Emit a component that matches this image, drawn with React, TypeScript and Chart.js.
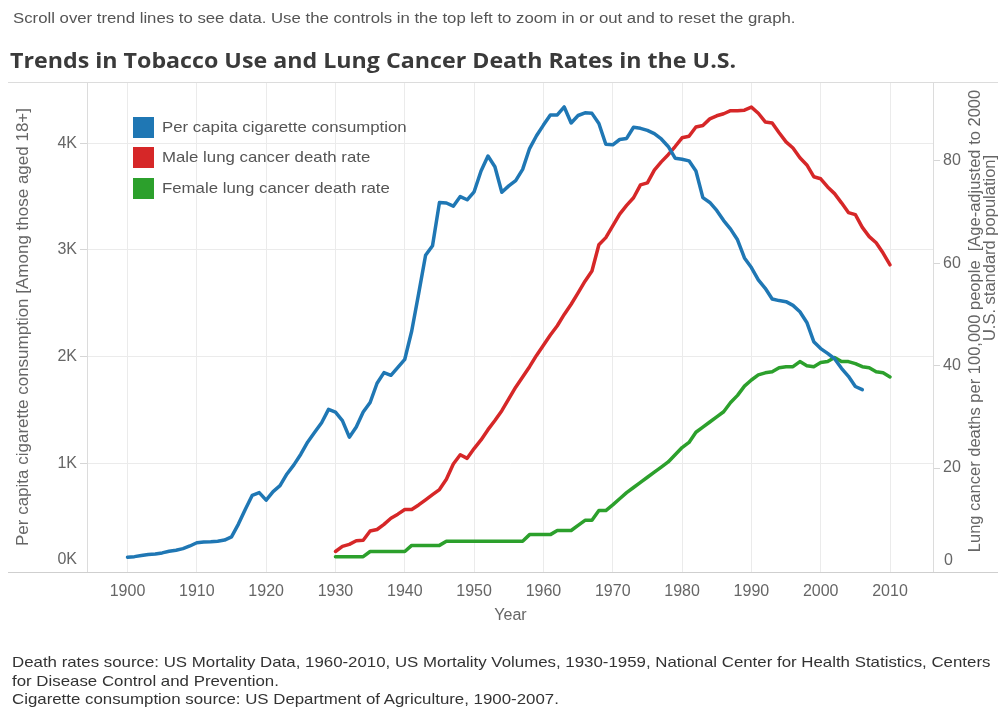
import React, { useEffect, useRef } from 'react';
import { Chart, registerables } from 'chart.js';

Chart.register(...registerables);

const FONT = '"Liberation Sans", Arial, sans-serif';

const cigYears = [
  1900, 1901, 1902, 1903, 1904, 1905, 1906, 1907, 1908, 1909,
  1910, 1911, 1912, 1913, 1914, 1915, 1916, 1917, 1918, 1919,
  1920, 1921, 1922, 1923, 1924, 1925, 1926, 1927, 1928, 1929,
  1930, 1931, 1932, 1933, 1934, 1935, 1936, 1937, 1938, 1939,
  1940, 1941, 1942, 1943, 1944, 1945, 1946, 1947, 1948, 1949,
  1950, 1951, 1952, 1953, 1954, 1955, 1956, 1957, 1958, 1959,
  1960, 1961, 1962, 1963, 1964, 1965, 1966, 1967, 1968, 1969,
  1970, 1971, 1972, 1973, 1974, 1975, 1976, 1977, 1978, 1979,
  1980, 1981, 1982, 1983, 1984, 1985, 1986, 1987, 1988, 1989,
  1990, 1991, 1992, 1993, 1994, 1995, 1996, 1997, 1998, 1999,
  2000, 2001, 2002, 2003, 2004, 2005, 2006,
];

const cigConsumption = [
  120, 125, 135, 145, 150, 160, 175, 185, 200, 225,
  255, 262, 265, 270, 280, 310, 430, 570, 700, 725,
  655, 735, 790, 900, 985, 1085, 1200, 1290, 1380, 1505,
  1480, 1400, 1245, 1340, 1480, 1570, 1750, 1850, 1825, 1900,
  1975, 2240, 2590, 2950, 3040, 3445, 3440, 3410, 3500, 3470,
  3545, 3740, 3880, 3780, 3540, 3600, 3650, 3755, 3950, 4070,
  4170, 4265, 4265, 4340, 4190, 4260, 4285, 4280, 4185, 3990,
  3985, 4035, 4045, 4150, 4140, 4120, 4090, 4040, 3970, 3860,
  3850, 3835, 3740, 3490, 3445, 3370, 3275, 3195, 3095, 2925,
  2835, 2720, 2640, 2540, 2525, 2515, 2480, 2420, 2320, 2140,
  2075, 2030, 1980, 1890, 1815, 1720, 1690,
];

const deathYears = [
  1930, 1931, 1932, 1933, 1934, 1935, 1936, 1937, 1938, 1939,
  1940, 1941, 1942, 1943, 1944, 1945, 1946, 1947, 1948, 1949,
  1950, 1951, 1952, 1953, 1954, 1955, 1956, 1957, 1958, 1959,
  1960, 1961, 1962, 1963, 1964, 1965, 1966, 1967, 1968, 1969,
  1970, 1971, 1972, 1973, 1974, 1975, 1976, 1977, 1978, 1979,
  1980, 1981, 1982, 1983, 1984, 1985, 1986, 1987, 1988, 1989,
  1990, 1991, 1992, 1993, 1994, 1995, 1996, 1997, 1998, 1999,
  2000, 2001, 2002, 2003, 2004, 2005, 2006, 2007, 2008, 2009,
  2010,
];

const maleDeathRate = [
  3.7, 4.7, 5.1, 5.8, 5.9, 7.7, 8.0, 9.0, 10.2, 11.0,
  11.9, 11.9, 12.8, 13.8, 14.8, 15.8, 17.8, 20.8, 22.6, 21.9,
  23.8, 25.5, 27.5, 29.3, 31.2, 33.5, 35.8, 37.8, 39.8, 42.0,
  44.0, 46.0, 47.8, 50.0, 52.0, 54.2, 56.5, 58.5, 63.6, 65.0,
  67.3, 69.6, 71.3, 72.8, 75.3, 75.7, 78.2, 79.8, 81.2, 82.8,
  84.5, 84.8, 86.6, 86.9, 88.2, 88.8, 89.2, 89.8, 89.8, 89.9,
  90.5, 89.3, 87.6, 87.4, 85.5, 83.7, 82.5, 80.6, 79.2, 76.9,
  76.5, 74.9, 73.6, 71.8, 69.9, 69.5, 67.0, 65.2, 64.0, 62.0,
  59.7,
];

const femaleDeathRate = [
  2.7, 2.7, 2.7, 2.7, 2.7, 3.7, 3.7, 3.7, 3.7, 3.7,
  3.7, 4.9, 4.9, 4.9, 4.9, 4.9, 5.7, 5.7, 5.7, 5.7,
  5.7, 5.7, 5.7, 5.7, 5.7, 5.7, 5.7, 5.7, 7.0, 7.0,
  7.0, 7.0, 7.8, 7.8, 7.8, 8.8, 9.8, 9.8, 11.7, 11.7,
  12.8, 14.0, 15.2, 16.2, 17.2, 18.2, 19.2, 20.2, 21.2, 22.6,
  24.0, 25.0, 27.0, 28.0, 29.0, 30.0, 31.0, 32.8, 34.2, 36.0,
  37.2, 38.2, 38.6, 38.8, 39.6, 39.8, 39.8, 40.8, 40.0, 39.8,
  40.6, 40.8, 41.6, 40.8, 40.8, 40.4, 39.8, 39.6, 38.8, 38.6,
  37.8,
];

const yearTicks = [1900, 1910, 1920, 1930, 1940, 1950, 1960, 1970, 1980, 1990, 2000, 2010];
const consumptionTicks = [0, 1000, 2000, 3000, 4000];
const rateTicks = [0, 20, 40, 60, 80];

const seriesNames = [
  'Per capita cigarette consumption',
  'Male lung cancer death rate',
  'Female lung cancer death rate',
];
const seriesColors = ['#1f77b4', '#d62728', '#2ca02c'];

const leftAxisTitle = 'Per capita cigarette consumption [Among those aged 18+]';
const rightAxisTitle1 = 'Lung cancer deaths per 100,000 people  [Age-adjusted to 2000';
const rightAxisTitle2 = 'U.S. standard population]';

const GRID = '#ebebeb';
const TICK_COLOR = '#666666';

const framePlugin = {
  id: 'frame',
  beforeDatasetsDraw(chart: any) {
    const { ctx, chartArea } = chart;
    ctx.save();
    ctx.lineWidth = 1;
    ctx.strokeStyle = '#dcdcdc';
    ctx.beginPath();
    ctx.moveTo(8, Math.round(chartArea.top) + 0.5);
    ctx.lineTo(998, Math.round(chartArea.top) + 0.5);
    ctx.moveTo(Math.round(chartArea.left) - 0.5, chartArea.top);
    ctx.lineTo(Math.round(chartArea.left) - 0.5, chartArea.bottom);
    ctx.moveTo(Math.round(chartArea.right) + 0.5, chartArea.top);
    ctx.lineTo(Math.round(chartArea.right) + 0.5, chartArea.bottom);
    ctx.stroke();
    ctx.strokeStyle = '#cfcfcf';
    ctx.beginPath();
    ctx.moveTo(8, Math.round(chartArea.bottom) + 0.5);
    ctx.lineTo(998, Math.round(chartArea.bottom) + 0.5);
    ctx.stroke();
    ctx.restore();
  },
  afterDraw(chart: any) {
    const { ctx } = chart;
    const yl = chart.scales.y;
    const yr = chart.scales.y1;
    ctx.save();
    ctx.fillStyle = TICK_COLOR;
    ctx.font = `16px ${FONT}`;
    ctx.textBaseline = 'middle';
    // zero labels sit just above the bottom edge, as in the original
    ctx.textAlign = 'right';
    ctx.fillText('0K', yl.right - 11, yl.getPixelForValue(0) - 10);
    ctx.textAlign = 'left';
    ctx.fillText('0', yr.left + 11, yr.getPixelForValue(0) - 10);
    // right axis title (two lines, reading bottom to top)
    ctx.font = `16.5px ${FONT}`;
    ctx.textAlign = 'center';
    ctx.save();
    ctx.translate(975, 321);
    ctx.rotate(-Math.PI / 2);
    ctx.fillText(rightAxisTitle1, 0, 0);
    ctx.restore();
    ctx.save();
    ctx.translate(990, 248);
    ctx.rotate(-Math.PI / 2);
    ctx.fillText(rightAxisTitle2, 0, 0);
    ctx.restore();
    ctx.restore();
  },
};

export default function App() {
  const canvasRef = useRef<HTMLCanvasElement | null>(null);

  useEffect(() => {
    const canvas = canvasRef.current;
    if (!canvas) return;
    const chart = new Chart(canvas, {
      type: 'line',
      data: {
        datasets: [
          {
            label: seriesNames[0],
            data: cigYears.map((yr, i) => ({ x: yr, y: cigConsumption[i] })),
            borderColor: seriesColors[0],
            backgroundColor: seriesColors[0],
            yAxisID: 'y',
          },
          {
            label: seriesNames[1],
            data: deathYears.map((yr, i) => ({ x: yr, y: maleDeathRate[i] })),
            borderColor: seriesColors[1],
            backgroundColor: seriesColors[1],
            yAxisID: 'y1',
          },
          {
            label: seriesNames[2],
            data: deathYears.map((yr, i) => ({ x: yr, y: femaleDeathRate[i] })),
            borderColor: seriesColors[2],
            backgroundColor: seriesColors[2],
            yAxisID: 'y1',
          },
        ],
      },
      options: {
        animation: false,
        responsive: false,
        maintainAspectRatio: false,
        devicePixelRatio: 1,
        layout: { padding: { top: 82, left: 0, right: 0, bottom: 0 } },
        elements: {
          point: { radius: 0, hoverRadius: 0 },
          line: {
            tension: 0,
            borderWidth: 3.5,
            borderJoinStyle: 'round',
            borderCapStyle: 'round',
            fill: false,
          },
        },
        plugins: {
          legend: { display: false },
          tooltip: { enabled: false },
          title: { display: false },
        },
        scales: {
          x: {
            type: 'linear',
            position: 'bottom',
            min: 1894.3,
            max: 2016.2,
            afterBuildTicks: (s: any) => {
              s.ticks = yearTicks.map((v) => ({ value: v }));
            },
            afterFit: (s: any) => {
              s.height = 139;
            },
            grid: { color: GRID, drawTicks: false },
            border: { display: false },
            ticks: {
              padding: 10,
              color: TICK_COLOR,
              font: { family: FONT, size: 16 },
              maxRotation: 0,
              autoSkip: false,
              callback: (v: any) => String(v),
            },
            title: {
              display: true,
              text: 'Year',
              color: TICK_COLOR,
              font: { family: FONT, size: 16 },
              padding: { top: 0, bottom: 86 },
            },
          },
          y: {
            type: 'linear',
            position: 'left',
            min: -19,
            max: 4574,
            afterBuildTicks: (s: any) => {
              s.ticks = consumptionTicks.map((v) => ({ value: v }));
            },
            afterFit: (s: any) => {
              s.width = 88;
            },
            grid: {
              color: (c: any) => (c.tick && c.tick.value === 0 ? 'rgba(0,0,0,0)' : GRID),
              tickColor: (c: any) => (c.tick && c.tick.value === 0 ? 'rgba(0,0,0,0)' : '#d6d6d6'),
              tickLength: 8,
            },
            border: { display: false },
            ticks: {
              padding: 3,
              color: TICK_COLOR,
              font: { family: FONT, size: 16 },
              callback: (v: any) => (v === 0 ? '' : `${v / 1000}K`),
            },
            title: {
              display: true,
              text: leftAxisTitle,
              color: TICK_COLOR,
              font: { family: FONT, size: 17 },
              padding: { top: 13, bottom: 0 },
            },
          },
          y1: {
            type: 'linear',
            position: 'right',
            min: -0.3,
            max: 95.4,
            afterBuildTicks: (s: any) => {
              s.ticks = rateTicks.map((v) => ({ value: v }));
            },
            afterFit: (s: any) => {
              s.width = 65;
            },
            grid: {
              drawOnChartArea: false,
              tickColor: (c: any) => (c.tick && c.tick.value === 0 ? 'rgba(0,0,0,0)' : '#d6d6d6'),
              tickLength: 7,
            },
            border: { display: false },
            ticks: {
              padding: 3,
              color: TICK_COLOR,
              font: { family: FONT, size: 16 },
              callback: (v: any) => (v === 0 ? '' : String(v)),
            },
          },
        },
      },
      plugins: [framePlugin],
    } as any);
    return () => {
      chart.destroy();
    };
  }, []);

  const legendRows = [127, 157, 188];

  return (
    <div
      style={{
        position: 'absolute',
        left: 0,
        top: 0,
        width: 998,
        height: 711,
        overflow: 'hidden',
        background: '#ffffff',
        fontFamily: FONT,
      }}
    >
      <canvas
        ref={canvasRef}
        width={998}
        height={711}
        style={{ position: 'absolute', left: 0, top: 0, width: 998, height: 711 }}
      />
      <div
        style={{
          position: 'absolute',
          left: 13,
          top: 10,
          fontSize: 14,
          lineHeight: '16px',
          color: '#555555',
          whiteSpace: 'nowrap',
          transform: 'scaleX(1.197)',
          transformOrigin: '0 0',
        }}
      >
        Scroll over trend lines to see data. Use the controls in the top left to zoom in or out and to reset the graph.
      </div>
      <div
        style={{
          position: 'absolute',
          left: 10,
          top: 45,
          fontFamily: '"Open Sans", "DejaVu Sans", sans-serif',
          fontWeight: 700,
          fontSize: 22,
          lineHeight: '28px',
          color: '#3a3a3a',
          whiteSpace: 'nowrap',
          transform: 'scaleX(1.055)',
          transformOrigin: '0 0',
        }}
      >
        Trends in Tobacco Use and Lung Cancer Death Rates in the U.S.
      </div>
      {seriesNames.map((name, i) => (
        <React.Fragment key={name}>
          <div
            style={{
              position: 'absolute',
              left: 133,
              top: legendRows[i] - 10.5,
              width: 21,
              height: 21,
              background: seriesColors[i],
            }}
          />
          <div
            style={{
              position: 'absolute',
              left: 162,
              top: legendRows[i] - 9,
              fontSize: 15,
              lineHeight: '18px',
              color: '#555555',
              whiteSpace: 'nowrap',
              transform: 'scaleX(1.12)',
              transformOrigin: '0 0',
            }}
          >
            {name}
          </div>
        </React.Fragment>
      ))}
      <div
        style={{
          position: 'absolute',
          left: 12,
          top: 653,
          fontSize: 15,
          lineHeight: '18.5px',
          color: '#333333',
          whiteSpace: 'nowrap',
          transform: 'scaleX(1.123)',
          transformOrigin: '0 0',
        }}
      >
        Death rates source: US Mortality Data, 1960-2010, US Mortality Volumes, 1930-1959, National Center for Health Statistics, Centers
        <br />
        for Disease Control and Prevention.
        <br />
        Cigarette consumption source: US Department of Agriculture, 1900-2007.
      </div>
    </div>
  );
}
